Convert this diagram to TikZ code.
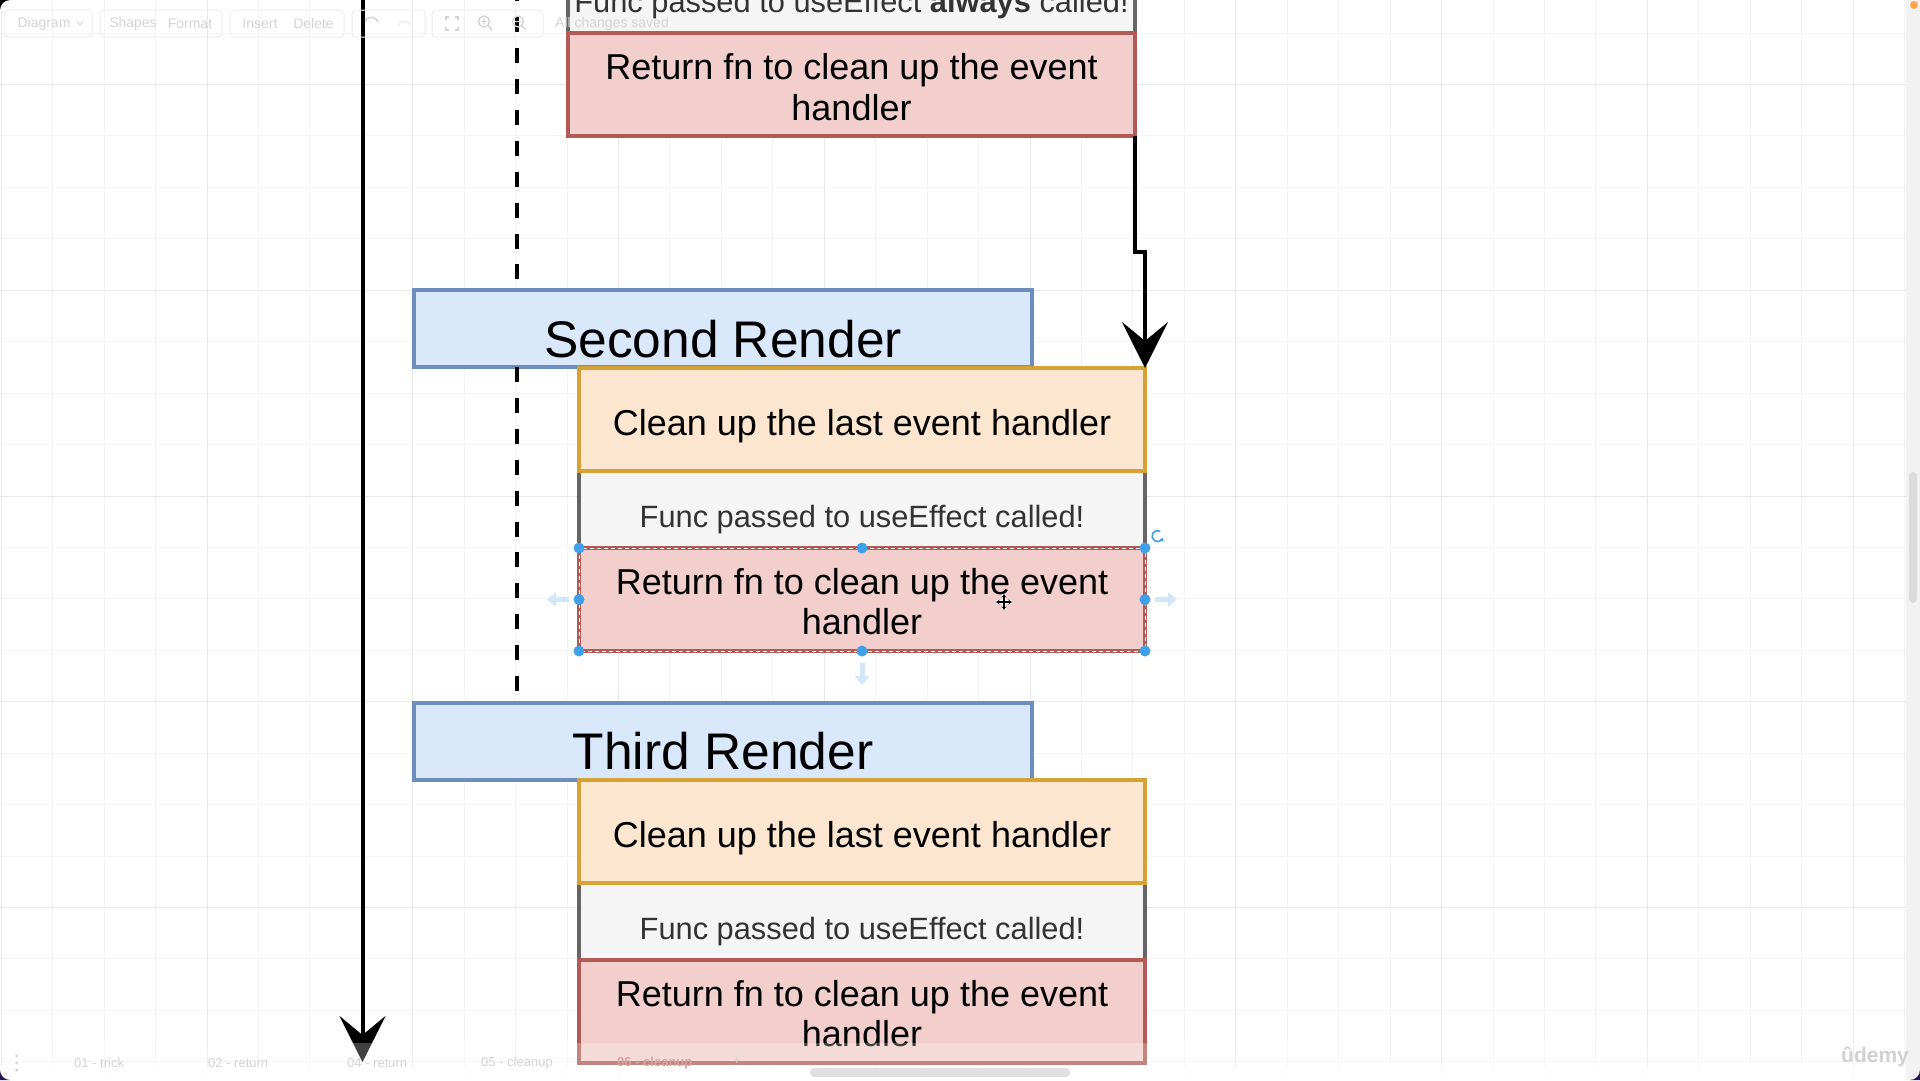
\documentclass[tikz,border=0pt]{standalone}
\usepackage{fontspec}
\setmainfont{Liberation Sans}
\usetikzlibrary{arrows.meta}

\definecolor{renderfill}{HTML}{DAE8FC}
\definecolor{renderline}{HTML}{6C8EBF}
\definecolor{cleanfill}{HTML}{FCE6CF}
\definecolor{cleanline}{HTML}{D6A235}
\definecolor{funcfill}{HTML}{F5F5F5}
\definecolor{funcline}{HTML}{666666}
\definecolor{functext}{HTML}{333333}
\definecolor{retfill}{HTML}{F2CFCC}
\definecolor{retline}{HTML}{B25A55}
\definecolor{gridminor}{HTML}{F4F4F4}
\definecolor{gridmajor}{HTML}{E8E8E8}
\definecolor{handleblue}{HTML}{3FA0EA}
\definecolor{hoverblue}{HTML}{D3E6F8}
\definecolor{uitext}{HTML}{D4D4D4}
\definecolor{uiline}{HTML}{EEEEEE}
\definecolor{framecorner}{HTML}{2A0F5A}

\begin{document}
\begin{tikzpicture}[x=1pt,y=-1pt,
  boxbase/.style={draw, line width=4pt, inner sep=0pt, outer sep=0pt},
  renderbox/.style={boxbase, draw=renderline, fill=renderfill, minimum width=618pt, minimum height=77pt},
  cleanbox/.style={boxbase, draw=cleanline, fill=cleanfill, minimum width=566pt, minimum height=103pt},
  funcbox/.style={boxbase, draw=funcline, fill=funcfill, minimum width=566pt, minimum height=77pt},
  retbox/.style={boxbase, draw=retline, fill=retfill, minimum width=566pt, minimum height=103pt},
  rendertxt/.style={anchor=base, inner sep=0pt, font=\fontsize{51.5pt}{55pt}\selectfont},
  bodytxt/.style={anchor=base, inner sep=0pt, font=\fontsize{36pt}{40pt}\selectfont},
  functxt/.style={anchor=base, inner sep=0pt, text=functext, font=\fontsize{30.8pt}{34pt}\selectfont},
  flow/.style={line width=4pt, black, -{Stealth[length=46pt, width=46pt, inset=19pt]}},
  lifeline/.style={line width=4.5pt, black, dash pattern=on 15pt off 15.9pt},
  handle/.style={fill=handleblue},
  hover/.style={draw=hoverblue, line width=5pt, -{Triangle[length=9pt, width=14pt]}},
  uitxt/.style={inner sep=0pt, text=uitext, font=\fontsize{14pt}{16pt}\selectfont},
  uibox/.style={draw=uiline, line width=1pt, rounded corners=4pt},
  tabtxt/.style={anchor=west, inner sep=0pt, text=uitext, font=\fontsize{13pt}{15pt}\selectfont}
]
\useasboundingbox (0,0) rectangle (1920,1080);
\clip (0,0) rectangle (1920,1080);
\fill[white] (0,0) rectangle (1920,1080);

% background grid
\foreach \i in {0,...,37} \draw[gridminor, line width=1pt] ({1.25+51.44*\i},0) -- ++(0,1080);
\foreach \j in {-1,...,19} \draw[gridminor, line width=1pt] (0,{84.5+51.44*\j}) -- ++(1920,0);
\foreach \i in {0,...,9} \draw[gridmajor, line width=1pt] ({1.25+205.76*\i},0) -- ++(0,1080);
\foreach \j in {0,...,4} \draw[gridmajor, line width=1pt] (0,{84.5+205.76*\j}) -- ++(1920,0);

% time axis
\coordinate (axistop) at (362.5,-5);
\coordinate (axisend) at (362.5,1062);
\draw[flow] (axistop) -- (axisend);

% first render (scrolled off the top)
\node[funcbox, minimum width=567pt] (g1) at (851.5,-5.5) {};
\node[functxt] (g1t) at ([yshift=-17.5pt]g1.center) {Func passed to useEffect \textbf{always} called!};
\node[retbox, minimum width=567pt] (e1) at (851.5,84.5) {};
\node[bodytxt] (e1ta) at ([yshift=5pt]e1.center) {Return fn to clean up the event};
\node[bodytxt] (e1tb) at ([yshift=-35.5pt]e1.center) {handler};

% second render
\node[renderbox] (r2) at (723,328.5) {};
\node[rendertxt] (r2t) at ([yshift=-29pt]r2.center) {Second Render};
\node[funcbox] (g2) at (862,509.5) {};
\node[functxt] (g2t) at ([yshift=-18pt]g2.center) {Func passed to useEffect called!};
\node[cleanbox] (c2) at (862,419.5) {};
\node[bodytxt] (c2t) at ([yshift=-15.5pt]c2.center) {Clean up the last event handler};
\node[retbox] (e2) at (862,599.5) {};
\node[bodytxt] (e2ta) at ([yshift=5.5pt]e2.center) {Return fn to clean up the event};
\node[bodytxt] (e2tb) at ([yshift=-35pt]e2.center) {handler};

% third render
\node[renderbox] (r3) at (723,741.5) {};
\node[rendertxt] (r3t) at ([yshift=-28pt]r3.center) {Third Render};
\node[funcbox] (g3) at (862,921.5) {};
\node[functxt] (g3t) at ([yshift=-17.5pt]g3.center) {Func passed to useEffect called!};
\node[cleanbox] (c3) at (862,831.5) {};
\node[bodytxt] (c3t) at ([yshift=-15.5pt]c3.center) {Clean up the last event handler};
\node[retbox] (e3) at (862,1011.5) {};
\node[bodytxt] (e3ta) at ([yshift=5.5pt]e3.center) {Return fn to clean up the event};
\node[bodytxt] (e3tb) at ([yshift=-35pt]e3.center) {handler};

% component lifeline
\coordinate (life) at (517,-13.7);
\draw[lifeline] (life) -- (life |- r2.north);
\draw[lifeline] (r2.south -| life) -- (r3.north -| life);

% cleanup handed to the next render
\draw[flow] (e1.south east) -- ++(0,116) -| (c2.north east);

% selection on the second cleanup function
\draw[white, line width=1pt, dash pattern=on 4pt off 3pt] (e2.north west) rectangle (e2.south east);
\foreach \a in {north west, north, north east, east, south east, south, south west, west}
  \fill[handle] (e2.\a) circle (5.5pt);
\draw[hover] ([xshift=-10pt]e2.west) -- ++(-22,0);
\draw[hover] ([xshift=10pt]e2.east) -- ++(22,0);
\draw[hover] ([yshift=-12pt]e2.south) -- ++(0,22);
\draw[handleblue, line width=1.6pt, -{Stealth[length=3.5pt, width=4.5pt]}]
  ([shift={(1157.5,536)}] 300:5.5) arc[start angle=300, end angle=20, radius=5.5];
\begin{scope}[shift={(1004,602)}]
  \draw[white, line width=3.5pt] (-8,0) -- (8,0) (0,-8) -- (0,8);
  \draw[black, line width=1.2pt, {Stealth[length=3.5pt, width=4.5pt]}-{Stealth[length=3.5pt, width=4.5pt]}] (-8,0) -- (8,0);
  \draw[black, line width=1.2pt, {Stealth[length=3.5pt, width=4.5pt]}-{Stealth[length=3.5pt, width=4.5pt]}] (0,-8) -- (0,8);
\end{scope}

% editor toolbar
\draw[uibox] (4,10) rectangle (92,37);
\draw[uibox] (100,10) rectangle (222,37);
\draw[uibox] (230,10) rectangle (344,37);
\draw[uibox] (352,10) rectangle (425,37);
\draw[uibox] (432,10) rectangle (543,37);
\node[uitxt] (tdiag) at (44,23.5) {Diagram};
\draw[uitext, line width=1pt] (77,21.5) -- (80,25) -- (83,21.5);
\node[uitxt] (tshapes) at (133,23.5) {Shapes};
\node[uitxt] (tformat) at (190,23.5) {Format};
\node[uitxt] (tinsert) at (260,23.5) {Insert};
\node[uitxt] (tdelete) at (313.5,23.5) {Delete};
\draw[uitext, line width=1.5pt, {Stealth[length=3pt]}-] (365,22) arc[start angle=200, end angle=340, radius=7];
\draw[uiline, line width=1.5pt, -{Stealth[length=3pt]}] (398,26) arc[start angle=200, end angle=340, radius=7];
\draw[uitext, line width=1.3pt] (446,20) -- (446,17) -- (449,17) (455,17) -- (458,17) -- (458,20)
  (446,27) -- (446,30) -- (449,30) (455,30) -- (458,30) -- (458,27);
\draw[uitext, line width=1.3pt] (484,21.5) circle (5.5pt) (488,25.5) -- (492,30) (481,21.5) -- (487,21.5) (484,18.5) -- (484,24.5);
\draw[uitext, line width=1.3pt] (518,21.5) circle (5.5pt) (522,25.5) -- (526,30) (515,21.5) -- (521,21.5);
\node[uitxt, anchor=west] (tsaved) at (555,23.5) {All changes saved};

% page tabs and scroll bars
\fill[white, opacity=0.25] (0,1043) rectangle (1906,1066);
\fill[white, opacity=0.85] (0,1066) rectangle (1906,1080);
\fill[uitext] (16.7,1056) circle (1.6pt) (16.7,1063) circle (1.6pt) (16.7,1070) circle (1.6pt);
\node[tabtxt] (tab1) at (74,1063) {01 - trick};
\node[tabtxt] (tab2) at (208,1063) {02 - return};
\node[tabtxt] (tab4) at (347,1063) {04 - return};
\node[tabtxt] (tab5) at (481,1063) {05 - cleanup};
\node[tabtxt, text=retline!55!white, font=\fontsize{13pt}{15pt}\bfseries] (tab6) at (617,1063) {06 - cleanup};
\node[tabtxt] (tabadd) at (733,1061) {+};
\fill[black!12, rounded corners=4pt] (810,1068) rectangle (1070,1077);
\fill[black!5] (1906,0) rectangle (1920,1080);
\fill[black!14, rounded corners=4pt] (1909,472) rectangle (1917,603);
\fill[orange!70!white] (1914,5) circle (4pt);
\node[inner sep=0pt, text=black!18, font=\fontsize{21pt}{23pt}\bfseries] (brand) at (1875,1057) {ûdemy};

% window corners
\fill[black] (0,0) -- (0,10) arc[start angle=180, end angle=270, radius=10] -- cycle;
\fill[framecorner] (0,1080) -- (0,1070) arc[start angle=180, end angle=90, radius=10] -- cycle;
\fill[framecorner] (1920,1080) -- (1920,1070) arc[start angle=0, end angle=90, radius=10] -- cycle;
\end{tikzpicture}
\end{document}
